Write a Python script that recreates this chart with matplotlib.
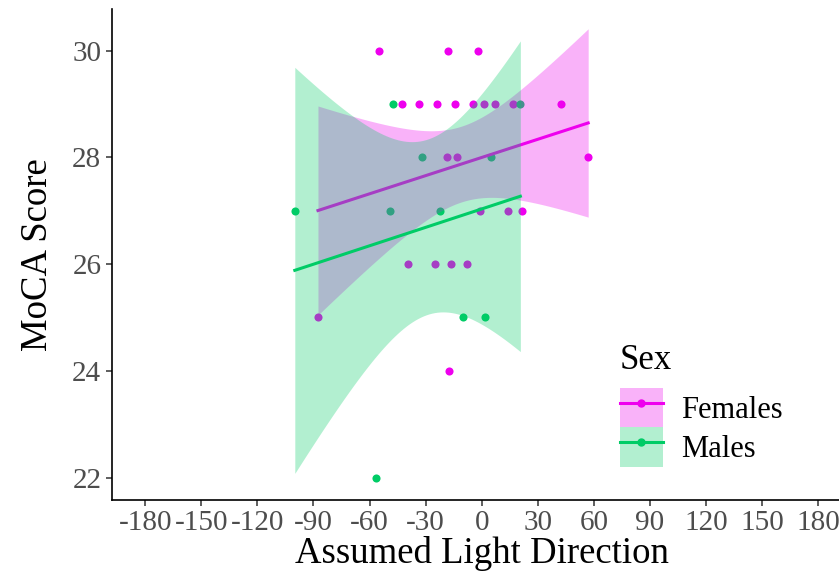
import numpy as np
import matplotlib
matplotlib.use("Agg")
import matplotlib.pyplot as plt
from matplotlib.patches import Patch
from matplotlib.lines import Line2D
from matplotlib.legend_handler import HandlerTuple

plt.rcParams['font.family'] = ['Liberation Serif', 'DejaVu Serif']
plt.rcParams['axes.unicode_minus'] = False

# --- data ---
fem_x = [-55, -18, -2, -42.5, -33.6, -24, -14.4, -4.8, 1, 7, 17, 42.7,
         -18.7, -13.3, 57, -1, 14.2, 21.4, -39.5, -25, -16.5, -8, -87.6, -17.6]
fem_y = [30, 30, 30, 29, 29, 29, 29, 29, 29, 29, 29, 29,
         28, 28, 28, 27, 27, 27, 26, 26, 26, 26, 25, 24]
male_x = [-47.5, 20.7, -32, 5, -100, -49, -22.4, -9.8, 1.6, -56.8]
male_y = [29, 29, 28, 28, 27, 27, 27, 25, 25, 22]

groups = ["Females", "Males"]
colors = {"Females": "#EE00EE", "Males": "#00CC66"}
# 97.5% t quantiles for df = n - 2 (22 and 8)
t_crit = {"Females": 2.0739, "Males": 2.3060}
xticks = [-180, -150, -120, -90, -60, -30, 0, 30, 60, 90, 120, 150, 180]
yticks = [22, 24, 26, 28, 30]


def lm_band(x, y, t):
    x = np.asarray(x, float)
    y = np.asarray(y, float)
    n = len(x)
    b, a = np.polyfit(x, y, 1)
    resid = y - (a + b * x)
    s = np.sqrt(np.sum(resid ** 2) / (n - 2))
    sxx = np.sum((x - x.mean()) ** 2)
    xs = np.linspace(x.min(), x.max(), 80)
    fit = a + b * xs
    se = s * np.sqrt(1 / n + (xs - x.mean()) ** 2 / sxx)
    return xs, fit, fit - t * se, fit + t * se


fig = plt.figure(figsize=(8.39, 5.74), dpi=100)
ax = fig.add_axes([0.1331, 0.1289, 0.882, 0.8549])

data = {"Females": (fem_x, fem_y), "Males": (male_x, male_y)}

# points first (ggplot layer order), smooths on top
for g in groups:
    ax.scatter(data[g][0], data[g][1], s=34, color=colors[g], zorder=1, linewidths=0)

z = 2
for g in groups:
    xs, fit, lo, hi = lm_band(data[g][0], data[g][1], t_crit[g])
    ax.fill_between(xs, lo, hi, color=colors[g], alpha=0.3, linewidth=0, zorder=z)
    ax.plot(xs, fit, color=colors[g], linewidth=2.2, zorder=z + 1)
    z += 2

ax.set_xlim(-198, 198)
ax.set_ylim(21.58, 30.775)
ax.set_xticks(xticks)
ax.set_yticks(yticks)
ax.tick_params(labelsize=21, labelcolor="#4D4D4D", color="#333333", length=4, width=1.1)
for side in ["top", "right"]:
    ax.spines[side].set_visible(False)
for side in ["left", "bottom"]:
    ax.spines[side].set_linewidth(1.2)

ax.set_xlabel("Assumed Light Direction", fontsize=26.5, labelpad=0)
ax.set_ylabel("MoCA Score", fontsize=26.5, labelpad=12)

handles = [(Patch(facecolor=colors[g], alpha=0.3, linewidth=0),
            Line2D([], [], color=colors[g], linewidth=2.2, marker="o", markersize=5))
           for g in groups]
leg = ax.legend(handles, groups, handler_map={tuple: HandlerTuple(ndivide=1)},
                title="Sex", fontsize=22, title_fontsize=25, frameon=False,
                loc="upper left", bbox_to_anchor=(620 / 839, 1 - 344 / 574),
                bbox_transform=fig.transFigure, borderpad=0, borderaxespad=0,
                handlelength=1.4, handleheight=1.6, labelspacing=0.0,
                handletextpad=0.6, alignment="left")
leg._legend_box.sep = 8  # gap between title and keys

fig.savefig("out.png", dpi=100)
